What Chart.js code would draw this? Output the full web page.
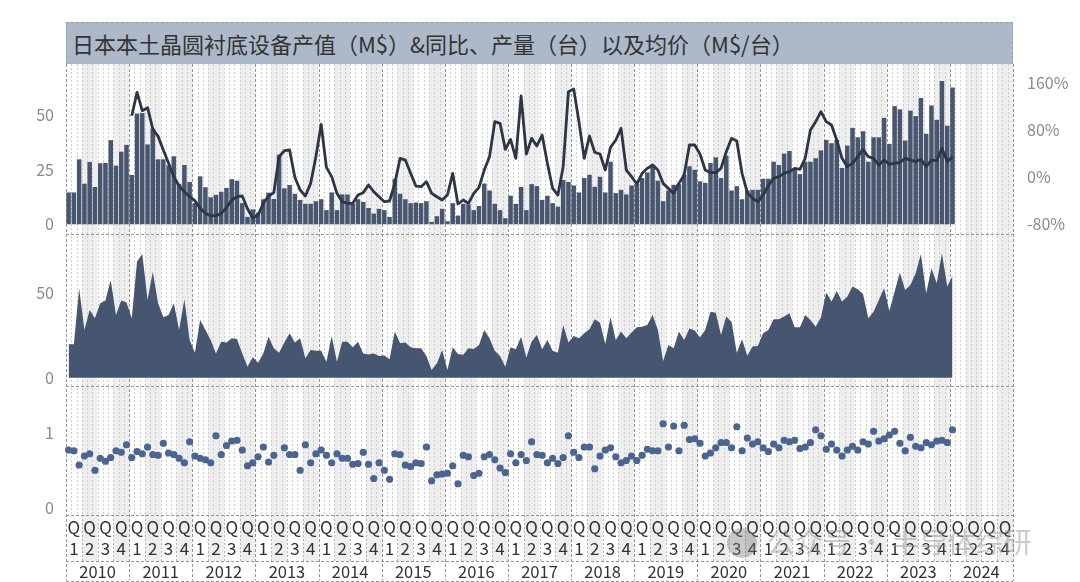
<!DOCTYPE html>
<html>
<head>
<meta charset="utf-8">
<script src="https://cdn.jsdelivr.net/npm/chart.js@4.4.1/dist/chart.umd.min.js"></script>
<style>
    html, body { margin: 0; padding: 0; background: #fff; }
    #wrap { position: relative; width: 1080px; height: 582px; overflow: hidden; }
    #title {
        position: absolute; left: 66px; top: 22px; width: 947px; height: 42px;
        box-sizing: border-box; background: #adb9c9; border: 1px dashed #98a1ab; border-bottom: none;
        font: 22px "Noto Sans CJK SC", sans-serif; color: #333; line-height: 40px;
        padding-left: 5px; white-space: nowrap;
    }
    #mark {
        position: absolute; left: 727px; top: 523px; height: 36px;
        font: 28px "Noto Sans CJK SC", sans-serif; color: rgba(150, 150, 150, 0.5);
        white-space: nowrap; line-height: 36px;
    }
    #mark span {
        display: inline-block; width: 30px; height: 30px; border-radius: 50%;
        background: rgba(120, 120, 120, 0.4); vertical-align: -5px; margin-right: 10px;
    }
</style>
</head>
<body>
<div id="wrap">
    <canvas id="chart" width="1080" height="582"></canvas>
    <div id="title">日本本土晶圆衬底设备产值（M$）&amp;同比、产量（台）以及均价（M$/台）</div>
    <div id="mark"><span></span>公众号 · 半导体综研</div>
</div>
<script>
// Axis categories
const years = ['2010', '2011', '2012', '2013', '2014', '2015', '2016', '2017',
    '2018', '2019', '2020', '2021', '2022', '2023', '2024'];
const quarterNames = ['1', '2', '3', '4'];

// Monthly output value (M$), Jan 2010 - Jan 2024
const outputValues = [
    14.6, 14.6, 29.8, 18.6, 28.6, 17.1, 28.0, 28.1, 38.6, 26.9, 33.3, 36.4,
    22.6, 50.8, 51.0, 36.6, 43.8, 29.8, 29.8, 27.0, 31.2, 18.5, 27.2, 19.4,
    9.7, 22.0, 17.0, 12.4, 13.5, 14.9, 16.7, 20.7, 20.0, 9.7, 3.4, 6.8,
    5.4, 11.5, 14.5, 11.6, 31.9, 16.5, 18.0, 14.0, 11.2, 9.4, 9.4, 10.6,
    11.5, 6.5, 14.6, 6.5, 13.7, 13.7, 9.4, 11.5, 10.3, 7.5, 4.9, 7.1,
    6.5, 3.4, 20.9, 14.0, 11.5, 9.7, 10.0, 9.7, 10.6, 1.1, 3.7, 7.1,
    1.4, 9.7, 4.0, 9.4, 9.1, 6.5, 8.4, 18.7, 15.5, 9.4, 6.5, 2.8,
    13.1, 9.4, 17.1, 6.5, 18.4, 17.5, 11.2, 13.1, 9.7, 8.1, 20.3, 19.4,
    17.8, 14.6, 21.2, 22.7, 17.2, 21.8, 14.6, 28.7, 14.3, 15.8, 13.7, 17.8,
    18.4, 21.2, 23.8, 26.9, 20.0, 10.6, 15.5, 18.1, 18.4, 22.7, 26.6, 25.0,
    19.7, 19.0, 28.1, 30.7, 21.2, 31.5, 15.5, 17.5, 11.5, 15.5, 15.8, 15.8,
    20.9, 20.9, 28.7, 27.2, 32.4, 33.6, 25.5, 23.0, 28.7, 28.7, 30.3, 33.9,
    38.7, 37.2, 38.7, 25.8, 36.1, 44.2, 39.9, 42.7, 28.7, 39.9, 39.9, 48.8,
    36.9, 54.2, 52.7, 38.4, 52.1, 49.6, 57.9, 41.5, 54.5, 47.9, 65.7, 45.2,
    62.7
];

// Year-on-year change of output value (%), starts Jan 2011
const yoyValues = [
    null, null, null, null, null, null, null, null, null, null, null, null,
    104.9, 144.6, 113.4, 118.5, 82.2, 69.7, 46.5, 23.8, 1.1, -14.8, -24.5, -33.0,
    -39.8, -52.8, -61.3, -65.3, -65.3, -61.3, -51.7, -38.6, -33.0, -31.8, -53.4, -69.3,
    -64.7, -44.3, -31.8, -26.1, 35.1, 45.3, 46.5, 0.0, -21.6, -31.8, -10.3, 35.1,
    90.2, 17.0, 1.1, -27.3, -41.5, -44.3, -44.3, -30.1, -26.1, -13.1, -24.5, -33.0,
    -41.5, -40.3, -10.3, 32.3, 29.4, 6.8, -14.8, -15.9, -7.4, -27.3, -33.0, -38.6,
    -30.1, 6.8, -45.4, -38.6, -44.3, -27.3, -17.1, 12.4, 35.1, 94.7, 91.9, 47.6,
    64.6, 32.3, 138.4, 39.7, 66.3, 53.3, 72.0, 23.8, -18.8, -30.1, 18.1, 145.8,
    150.3, 94.7, 32.3, 70.3, 42.5, 39.7, 12.4, 51.0, 63.5, 83.4, 12.4, 1.1,
    -11.4, 6.8, 15.3, 20.9, 12.4, -10.3, -18.8, -27.3, -10.3, 3.9, 55.0, 55.0,
    39.7, 12.4, 7.9, 7.9, 15.3, 43.6, 66.3, 61.8, 6.8, -26.1, -35.8, -41.5,
    -30.1, -14.0, -1.8, 1.1, 6.8, 9.6, 15.3, 13.6, 32.3, 80.5, 94.7, 111.7,
    94.7, 89.0, 63.5, 32.3, 18.1, 23.8, 35.1, 47.6, 35.1, 32.3, 20.9, 29.4,
    22.6, 23.8, 25.5, 32.3, 29.4, 26.6, 30.6, 18.1, 29.4, 28.3, 49.3, 26.6,
    35.1
];

// Monthly output quantity (units)
const unitValues = [
    19.8, 19.8, 53.0, 28.3, 40.1, 35.2, 44.1, 45.7, 57.9, 37.2, 45.7, 44.5,
    35.2, 68.8, 73.3, 46.0, 62.8, 44.1, 35.8, 37.2, 44.1, 28.3, 46.4, 22.3,
    14.8, 34.2, 28.3, 22.3, 14.4, 21.3, 20.8, 23.3, 22.9, 14.4, 6.5, 12.1,
    8.9, 14.4, 24.3, 17.4, 14.8, 20.8, 26.3, 20.8, 23.3, 11.5, 16.4, 16.0,
    16.0, 9.5, 24.7, 9.5, 21.3, 21.3, 18.0, 21.3, 14.4, 13.8, 14.4, 12.8,
    13.2, 10.9, 27.3, 20.4, 20.9, 18.0, 17.4, 17.4, 12.8, 4.5, 8.5, 16.4,
    4.5, 18.0, 14.0, 13.6, 17.4, 17.0, 19.4, 28.3, 23.3, 16.0, 12.8, 6.5,
    18.0, 16.8, 24.3, 11.9, 21.3, 25.3, 16.8, 22.3, 16.0, 14.8, 31.2, 20.8,
    24.7, 23.3, 26.3, 28.7, 34.6, 32.6, 20.0, 35.8, 22.3, 27.3, 23.3, 26.7,
    29.8, 30.2, 31.2, 37.2, 28.3, 9.9, 19.4, 17.4, 27.3, 22.3, 29.2, 27.9,
    23.9, 28.3, 39.1, 38.5, 25.3, 36.2, 33.2, 14.8, 22.7, 13.0, 18.4, 18.8,
    26.3, 28.3, 34.6, 34.6, 36.2, 38.1, 29.8, 29.8, 37.2, 34.2, 30.2, 35.8,
    50.4, 45.1, 51.4, 45.1, 48.0, 54.0, 52.4, 49.6, 35.2, 39.1, 46.0, 53.0,
    39.5, 51.0, 62.3, 52.0, 54.9, 61.9, 73.3, 50.0, 64.8, 55.9, 73.7, 54.0,
    60.3
];

// Average price (M$ per unit)
const priceValues = [
    0.77, 0.76, 0.57, 0.69, 0.72, 0.50, 0.66, 0.62, 0.67, 0.76, 0.74, 0.84,
    0.67, 0.75, 0.72, 0.81, 0.71, 0.70, 0.86, 0.73, 0.71, 0.66, 0.60, 0.88,
    0.69, 0.66, 0.64, 0.60, 0.96, 0.71, 0.83, 0.89, 0.90, 0.77, 0.56, 0.60,
    0.68, 0.81, 0.61, 0.70, null, 0.80, 0.71, 0.71, 0.50, 0.84, 0.60, 0.72,
    0.77, 0.70, 0.60, 0.72, 0.66, 0.66, 0.58, 0.59, 0.74, 0.58, 0.39, 0.60,
    0.50, 0.38, 0.72, 0.71, 0.57, 0.55, 0.60, 0.59, 0.81, 0.36, 0.44, 0.45,
    0.46, 0.56, 0.32, 0.70, 0.68, 0.43, 0.46, 0.68, 0.71, 0.64, 0.53, 0.47,
    0.72, 0.60, 0.71, 0.63, 0.88, 0.71, 0.70, 0.60, 0.66, 0.59, 0.67, 0.96,
    0.74, 0.67, 0.81, 0.81, 0.52, 0.69, 0.77, 0.80, 0.68, 0.60, 0.63, 0.69,
    0.63, 0.70, 0.78, 0.76, 0.76, 1.12, 0.81, 1.09, 0.76, 1.10, 0.91, 0.92,
    0.86, 0.69, 0.73, 0.80, 0.87, 0.87, 0.80, 1.08, 0.76, 0.93, 0.85, 0.88,
    0.80, 0.75, 0.85, 0.80, 0.90, 0.88, 0.90, 0.79, 0.81, 0.87, 1.04, 0.96,
    0.78, 0.85, 0.77, 0.69, 0.77, 0.82, 0.77, 0.88, 0.85, 1.02, 0.89, 0.92,
    0.97, 1.02, 0.86, 0.76, 0.94, 0.82, 0.80, 0.87, 0.84, 0.89, 0.90, 0.87,
    1.04
];

// Tick labels for each panel
const outputTicks = [0, 25, 50];
const yoyTicks = [-80, 0, 80, 160];
const unitTicks = [0, 50];
const priceTicks = [0, 1];

// Category labels built from the years
const monthLabels = [];
const quarterLabels = [];
years.forEach(y => {
    for (let m = 1; m <= 12; m++) monthLabels.push(y + '-' + String(m).padStart(2, '0'));
    quarterNames.forEach(q => quarterLabels.push(['Q', q]));
});

const FONT = '"Noto Sans CJK SC", "Noto Sans", sans-serif';
const tickStyle = { color: '#8a8a8a', font: { family: FONT, size: 16 }, padding: 12 };

function strokeLine(ctx, x1, y1, x2, y2) {
    ctx.beginPath();
    ctx.moveTo(x1, y1);
    ctx.lineTo(x2, y2);
    ctx.stroke();
}

// Background bands, month / year dividers and panel borders
const panelGrid = {
    id: 'panelGrid',
    beforeDraw(chart) {
        const { ctx, chartArea: area, scales } = chart;
        const step = (area.right - area.left) / monthLabels.length;
        const edge = m => area.left + m * step;
        const qBottom = scales.xq.bottom;
        const yBottom = scales.xy.bottom - 1.5;

        ctx.save();
        ctx.fillStyle = '#eeeeee';
        for (let q = 1; q < quarterLabels.length; q += 2) {
            ctx.fillRect(edge(q * 3), area.top, step * 3, qBottom - area.top);
        }

        ctx.lineWidth = 1;
        ctx.strokeStyle = '#cdcdcd';
        ctx.setLineDash([2, 2]);
        for (let m = 1; m < monthLabels.length; m++) {
            if (m % 12 === 0) continue;
            const px = Math.round(edge(m)) + 0.5;
            strokeLine(ctx, px, area.top, px, area.bottom);
        }

        ctx.strokeStyle = '#b5b5b5';
        for (let q = 1; q < quarterLabels.length; q++) {
            if (q % 4 === 0) continue;
            const px = Math.round(edge(q * 3)) + 0.5;
            strokeLine(ctx, px, area.bottom, px, qBottom);
        }

        ctx.strokeStyle = '#959595';
        ctx.setLineDash([3, 2]);
        for (let y = 0; y <= years.length; y++) {
            const px = Math.round(edge(y * 12)) + 0.5;
            strokeLine(ctx, px, area.top, px, yBottom);
        }

        const rows = [scales.y1.bottom, scales.y2.bottom, area.bottom, qBottom, yBottom];
        rows.forEach(py => {
            const y = Math.round(py) + 0.5;
            strokeLine(ctx, area.left, y, area.right, y);
        });
        ctx.restore();
    }
};

new Chart(document.getElementById('chart'), {
    type: 'bar',
    data: {
        labels: monthLabels,
        datasets: [
            {
                type: 'line',
                label: '同比',
                data: yoyValues,
                xAxisID: 'x',
                yAxisID: 'yr',
                borderColor: '#2c3646',
                borderWidth: 2.8,
                borderJoinStyle: 'round',
                pointRadius: 0,
                tension: 0,
                order: 0
            },
            {
                label: '产值（M$）',
                data: outputValues,
                xAxisID: 'x',
                yAxisID: 'y1',
                backgroundColor: '#48576f',
                barPercentage: 0.86,
                categoryPercentage: 1,
                order: 1
            },
            {
                type: 'line',
                label: '产量（台）',
                data: unitValues,
                xAxisID: 'x',
                yAxisID: 'y2',
                backgroundColor: '#465670',
                borderWidth: 0,
                pointRadius: 0,
                fill: 'origin',
                order: 2
            },
            {
                type: 'line',
                label: '均价（M$/台）',
                data: priceValues,
                xAxisID: 'x',
                yAxisID: 'y3',
                showLine: false,
                pointRadius: 3.6,
                pointBackgroundColor: '#4b6492',
                pointBorderWidth: 0,
                order: 3
            }
        ]
    },
    options: {
        responsive: false,
        animation: false,
        events: [],
        layout: { padding: { top: 64, left: 0, right: 0, bottom: 0 } },
        plugins: {
            legend: { display: false },
            tooltip: { enabled: false }
        },
        scales: {
            x: {
                type: 'category',
                labels: monthLabels,
                offset: true,
                weight: 0,
                grid: { display: false, drawTicks: false },
                border: { display: false },
                ticks: { display: false },
                afterFit: s => { s.height = 0; }
            },
            xq: {
                type: 'category',
                labels: quarterLabels,
                position: 'bottom',
                offset: true,
                weight: 1,
                grid: { display: false, drawTicks: false },
                border: { display: false },
                ticks: {
                    autoSkip: false, maxRotation: 0, minRotation: 0, padding: 2,
                    color: '#333', font: { family: FONT, size: 17, lineHeight: 1.22 }
                },
                afterFit: s => { s.height = 46; }
            },
            xy: {
                type: 'category',
                labels: years,
                position: 'bottom',
                offset: true,
                weight: 2,
                grid: { display: false, drawTicks: false },
                border: { display: false },
                ticks: {
                    autoSkip: false, maxRotation: 0, minRotation: 0, padding: 1,
                    color: '#333', font: { family: FONT, size: 16.5 }
                },
                afterFit: s => { s.height = 21; }
            },
            y1: {
                type: 'linear',
                position: 'left',
                stack: 'panels',
                stackWeight: 170,
                weight: 3,
                min: -4.45,
                max: 73.5,
                grid: { display: false, drawTicks: false },
                border: { display: false },
                ticks: tickStyle,
                afterBuildTicks: axis => { axis.ticks = outputTicks.map(v => ({ value: v })); },
                afterFit: s => { s.width = 66; }
            },
            y2: {
                type: 'linear',
                position: 'left',
                stack: 'panels',
                stackWeight: 152,
                weight: 2,
                min: -4.92,
                max: 85.1,
                grid: { display: false, drawTicks: false },
                border: { display: false },
                ticks: tickStyle,
                afterBuildTicks: axis => { axis.ticks = unitTicks.map(v => ({ value: v })); },
                afterFit: s => { s.width = 66; }
            },
            y3: {
                type: 'linear',
                position: 'left',
                stack: 'panels',
                stackWeight: 129,
                weight: 1,
                min: -0.097,
                max: 1.623,
                grid: { display: false, drawTicks: false },
                border: { display: false },
                ticks: tickStyle,
                afterBuildTicks: axis => { axis.ticks = priceTicks.map(v => ({ value: v })); },
                afterFit: s => { s.width = 66; }
            },
            yr: {
                type: 'linear',
                position: 'right',
                min: -574.8,
                max: 192.9,
                grid: { display: false, drawTicks: false },
                border: { display: false },
                ticks: Object.assign({}, tickStyle, { padding: 14, callback: v => v + '%' }),
                afterBuildTicks: axis => { axis.ticks = yoyTicks.map(v => ({ value: v })); },
                afterFit: s => { s.width = 67; }
            }
        }
    },
    plugins: [panelGrid]
});
</script>
</body>
</html>
